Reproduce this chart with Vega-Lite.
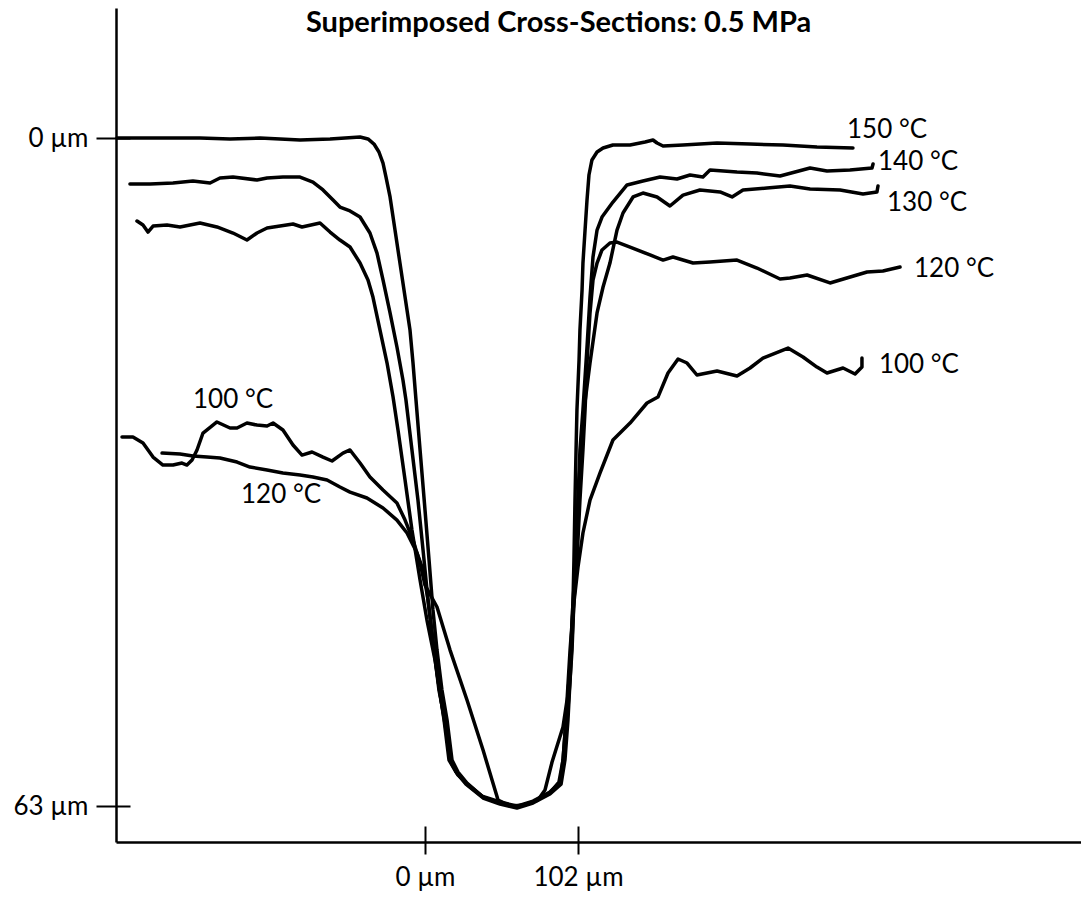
{
  "$schema": "https://vega.github.io/schema/vega-lite/v6.json",
  "width": 965,
  "height": 834,
  "autosize": {"type": "none"},
  "padding": {"left": 116, "top": 8, "right": 0, "bottom": 67},
  "background": "white",
  "title": {"text": "Superimposed Cross-Sections: 0.5 MPa", "font": "Lato", "fontSize": 29, "fontWeight": "bold", "color": "black", "anchor": "middle", "dx": -40, "dy": 53, "offset": 0, "baseline": "alphabetic"},
  "config": {"view": {"stroke": null}},
  "datasets": {
    "curves": [
      {"s":"150","i":1,"x":-205.3,"y":0},{"s":"150","i":2,"x":-183.3,"y":0},{"s":"150","i":3,"x":-150,"y":0},{"s":"150","i":4,"x":-130,"y":0.09},{"s":"150","i":5,"x":-110,"y":0},{"s":"150","i":6,"x":-83.3,"y":0.19},{"s":"150","i":7,"x":-63.3,"y":0.09},{"s":"150","i":8,"x":-53.3,"y":0},{"s":"150","i":9,"x":-43.3,"y":-0.09},{"s":"150","i":10,"x":-38,"y":0.09},{"s":"150","i":11,"x":-34,"y":0.57},{"s":"150","i":12,"x":-30.7,"y":1.32},{"s":"150","i":13,"x":-28,"y":2.36},{"s":"150","i":14,"x":-26,"y":3.68},{"s":"150","i":15,"x":-23.3,"y":5.56},{"s":"150","i":16,"x":-20,"y":8.68},{"s":"150","i":17,"x":-16.7,"y":11.79},{"s":"150","i":18,"x":-13.3,"y":15.0},{"s":"150","i":19,"x":-10,"y":18.11},{"s":"150","i":20,"x":-8,"y":21.22},{"s":"150","i":21,"x":-6,"y":24.71},{"s":"150","i":22,"x":-3.3,"y":29.42},{"s":"150","i":23,"x":0,"y":35.08},{"s":"150","i":24,"x":2.7,"y":39.8},{"s":"150","i":25,"x":5.3,"y":44.51},{"s":"150","i":26,"x":8,"y":48.29},{"s":"150","i":27,"x":11.3,"y":52.06},{"s":"150","i":28,"x":14.7,"y":54.89},{"s":"150","i":29,"x":18,"y":58.66},{"s":"150","i":30,"x":22,"y":59.79},{"s":"150","i":31,"x":28,"y":60.83},{"s":"150","i":32,"x":38.7,"y":62.15},{"s":"150","i":33,"x":50,"y":62.71},{"s":"150","i":34,"x":61.3,"y":63.09},{"s":"150","i":35,"x":72,"y":62.62},{"s":"150","i":36,"x":83.3,"y":61.77},{"s":"150","i":37,"x":90,"y":60.83},{"s":"150","i":38,"x":92,"y":58.66},{"s":"150","i":39,"x":94,"y":54.89},{"s":"150","i":40,"x":96,"y":51.12},{"s":"150","i":41,"x":97.3,"y":48.29},{"s":"150","i":42,"x":98.7,"y":43.57},{"s":"150","i":43,"x":99.3,"y":39.8},{"s":"150","i":44,"x":100,"y":34.14},{"s":"150","i":45,"x":100.7,"y":29.42},{"s":"150","i":46,"x":101.3,"y":25.65},{"s":"150","i":47,"x":102.7,"y":20.94},{"s":"150","i":48,"x":103.3,"y":18.11},{"s":"150","i":49,"x":104.7,"y":14.34},{"s":"150","i":50,"x":105.3,"y":11.79},{"s":"150","i":51,"x":106.7,"y":8.68},{"s":"150","i":52,"x":108,"y":5.85},{"s":"150","i":53,"x":109.3,"y":3.49},{"s":"150","i":54,"x":111.3,"y":2.07},{"s":"150","i":55,"x":114.7,"y":1.32},{"s":"150","i":56,"x":118.7,"y":0.94},{"s":"150","i":57,"x":125.3,"y":0.66},{"s":"150","i":58,"x":136.7,"y":0.66},{"s":"150","i":59,"x":146.7,"y":0.38},{"s":"150","i":60,"x":152,"y":0.19},{"s":"150","i":61,"x":154.7,"y":0.47},{"s":"150","i":62,"x":158.7,"y":0.75},{"s":"150","i":63,"x":172,"y":0.66},{"s":"150","i":64,"x":194.7,"y":0.47},{"s":"150","i":65,"x":216.7,"y":0.57},{"s":"150","i":66,"x":238.7,"y":0.66},{"s":"150","i":67,"x":261.3,"y":0.85},{"s":"150","i":68,"x":285.3,"y":0.94},

      {"s":"140","i":1,"x":-196.7,"y":4.34},{"s":"140","i":2,"x":-183.3,"y":4.34},{"s":"140","i":3,"x":-168,"y":4.24},{"s":"140","i":4,"x":-154.7,"y":4.06},{"s":"140","i":5,"x":-143.3,"y":4.24},{"s":"140","i":6,"x":-136.7,"y":3.77},{"s":"140","i":7,"x":-128,"y":3.68},{"s":"140","i":8,"x":-112,"y":3.96},{"s":"140","i":9,"x":-105.3,"y":3.77},{"s":"140","i":10,"x":-94.7,"y":3.68},{"s":"140","i":11,"x":-83.3,"y":3.68},{"s":"140","i":12,"x":-74.7,"y":4.15},{"s":"140","i":13,"x":-68,"y":4.9},{"s":"140","i":14,"x":-61.3,"y":5.85},{"s":"140","i":15,"x":-56.7,"y":6.51},{"s":"140","i":16,"x":-50,"y":6.88},{"s":"140","i":17,"x":-43.3,"y":7.45},{"s":"140","i":18,"x":-36.7,"y":8.96},{"s":"140","i":19,"x":-32,"y":10.85},{"s":"140","i":20,"x":-28,"y":13.39},{"s":"140","i":21,"x":-23.3,"y":16.5},{"s":"140","i":22,"x":-18.7,"y":19.71},{"s":"140","i":23,"x":-14.7,"y":22.82},{"s":"140","i":24,"x":-12.7,"y":24.71},{"s":"140","i":25,"x":-8.7,"y":29.42},{"s":"140","i":26,"x":-4.7,"y":34.14},{"s":"140","i":27,"x":-1.3,"y":38.86},{"s":"140","i":28,"x":2,"y":43.57},{"s":"140","i":29,"x":6,"y":48.29},{"s":"140","i":30,"x":9.3,"y":52.06},{"s":"140","i":31,"x":13.3,"y":54.89},{"s":"140","i":32,"x":16.7,"y":58.66},{"s":"140","i":33,"x":21.3,"y":59.89},{"s":"140","i":34,"x":27.3,"y":60.93},{"s":"140","i":35,"x":38.7,"y":62.24},{"s":"140","i":36,"x":50,"y":62.81},{"s":"140","i":37,"x":61.3,"y":63.19},{"s":"140","i":38,"x":72,"y":62.71},{"s":"140","i":39,"x":83.3,"y":61.87},{"s":"140","i":40,"x":90.7,"y":60.93},{"s":"140","i":41,"x":93.3,"y":58.66},{"s":"140","i":42,"x":95.3,"y":54.89},{"s":"140","i":43,"x":96.7,"y":51.12},{"s":"140","i":44,"x":98,"y":48.29},{"s":"140","i":45,"x":99.3,"y":43.57},{"s":"140","i":46,"x":100.7,"y":39.8},{"s":"140","i":47,"x":102,"y":34.14},{"s":"140","i":48,"x":103.3,"y":29.42},{"s":"140","i":49,"x":105.3,"y":25.65},{"s":"140","i":50,"x":108,"y":19.71},{"s":"140","i":51,"x":110,"y":15.0},{"s":"140","i":52,"x":112,"y":11.22},{"s":"140","i":53,"x":114.7,"y":8.68},{"s":"140","i":54,"x":118,"y":7.45},{"s":"140","i":55,"x":125.3,"y":6.04},{"s":"140","i":56,"x":134.7,"y":4.43},{"s":"140","i":57,"x":145.3,"y":4.06},{"s":"140","i":58,"x":156.7,"y":3.68},{"s":"140","i":59,"x":168,"y":3.87},{"s":"140","i":60,"x":176.7,"y":3.49},{"s":"140","i":61,"x":185.3,"y":3.68},{"s":"140","i":62,"x":190,"y":3.02},{"s":"140","i":63,"x":208,"y":3.21},{"s":"140","i":64,"x":221.3,"y":3.3},{"s":"140","i":65,"x":236.7,"y":3.58},{"s":"140","i":66,"x":256.7,"y":2.83},{"s":"140","i":67,"x":268,"y":3.11},{"s":"140","i":68,"x":283.3,"y":3.02},{"s":"140","i":69,"x":298,"y":2.83},{"s":"140","i":70,"x":298.7,"y":2.45},

      {"s":"130","i":1,"x":-192,"y":7.83},{"s":"130","i":2,"x":-188,"y":8.21},{"s":"130","i":3,"x":-184.7,"y":8.87},{"s":"130","i":4,"x":-181.3,"y":8.3},{"s":"130","i":5,"x":-172,"y":8.21},{"s":"130","i":6,"x":-163.3,"y":8.39},{"s":"130","i":7,"x":-150,"y":8.02},{"s":"130","i":8,"x":-138.7,"y":8.39},{"s":"130","i":9,"x":-128,"y":8.96},{"s":"130","i":10,"x":-118.7,"y":9.62},{"s":"130","i":11,"x":-112,"y":8.96},{"s":"130","i":12,"x":-105.3,"y":8.49},{"s":"130","i":13,"x":-88,"y":8.11},{"s":"130","i":14,"x":-82,"y":8.39},{"s":"130","i":15,"x":-70,"y":8.02},{"s":"130","i":16,"x":-63.3,"y":8.87},{"s":"130","i":17,"x":-56.7,"y":9.62},{"s":"130","i":18,"x":-50,"y":10.28},{"s":"130","i":19,"x":-43.3,"y":11.79},{"s":"130","i":20,"x":-38,"y":13.39},{"s":"130","i":21,"x":-34.7,"y":15.0},{"s":"130","i":22,"x":-30,"y":18.11},{"s":"130","i":23,"x":-25.3,"y":21.22},{"s":"130","i":24,"x":-21.3,"y":24.43},{"s":"130","i":25,"x":-18,"y":27.54},{"s":"130","i":26,"x":-13.3,"y":32.25},{"s":"130","i":27,"x":-8.7,"y":36.97},{"s":"130","i":28,"x":-3.3,"y":41.69},{"s":"130","i":29,"x":1.3,"y":45.46},{"s":"130","i":30,"x":6.7,"y":49.23},{"s":"130","i":31,"x":10.7,"y":53.0},{"s":"130","i":32,"x":14,"y":55.83},{"s":"130","i":33,"x":17.3,"y":58.85},{"s":"130","i":34,"x":22,"y":60.08},{"s":"130","i":35,"x":28.7,"y":61.02},{"s":"130","i":36,"x":38.7,"y":62.15},{"s":"130","i":37,"x":50,"y":62.71},{"s":"130","i":38,"x":61.3,"y":63.09},{"s":"130","i":39,"x":72,"y":62.62},{"s":"130","i":40,"x":83.3,"y":61.77},{"s":"130","i":41,"x":89.3,"y":60.74},{"s":"130","i":42,"x":92,"y":58.66},{"s":"130","i":43,"x":94,"y":54.89},{"s":"130","i":44,"x":96,"y":51.12},{"s":"130","i":45,"x":97.3,"y":48.29},{"s":"130","i":46,"x":98.7,"y":43.57},{"s":"130","i":47,"x":100.7,"y":39.8},{"s":"130","i":48,"x":102,"y":34.14},{"s":"130","i":49,"x":104,"y":29.42},{"s":"130","i":50,"x":106,"y":25.65},{"s":"130","i":51,"x":110,"y":21.22},{"s":"130","i":52,"x":114.7,"y":16.5},{"s":"130","i":53,"x":118.7,"y":14.05},{"s":"130","i":54,"x":123.3,"y":11.79},{"s":"130","i":55,"x":128,"y":8.68},{"s":"130","i":56,"x":132,"y":7.07},{"s":"130","i":57,"x":138.7,"y":5.56},{"s":"130","i":58,"x":145.3,"y":5.19},{"s":"130","i":59,"x":154.7,"y":5.56},{"s":"130","i":60,"x":163.3,"y":6.41},{"s":"130","i":61,"x":172,"y":5.38},{"s":"130","i":62,"x":183.3,"y":4.9},{"s":"130","i":63,"x":196.7,"y":5.09},{"s":"130","i":64,"x":204.7,"y":5.56},{"s":"130","i":65,"x":212,"y":4.9},{"s":"130","i":66,"x":228,"y":4.72},{"s":"130","i":67,"x":243.3,"y":4.53},{"s":"130","i":68,"x":256.7,"y":4.81},{"s":"130","i":69,"x":276.7,"y":4.9},{"s":"130","i":70,"x":292,"y":5.28},{"s":"130","i":71,"x":301.3,"y":5.09},{"s":"130","i":72,"x":302,"y":4.53},

      {"s":"120","i":1,"x":-175.3,"y":29.71},{"s":"120","i":2,"x":-163.3,"y":29.8},{"s":"120","i":3,"x":-154.7,"y":29.99},{"s":"120","i":4,"x":-145.3,"y":30.09},{"s":"120","i":5,"x":-136.7,"y":30.18},{"s":"120","i":6,"x":-125.3,"y":30.56},{"s":"120","i":7,"x":-116.7,"y":31.03},{"s":"120","i":8,"x":-105.3,"y":31.31},{"s":"120","i":9,"x":-94.7,"y":31.59},{"s":"120","i":10,"x":-83.3,"y":31.78},{"s":"120","i":11,"x":-74.7,"y":31.97},{"s":"120","i":12,"x":-65.3,"y":32.25},{"s":"120","i":13,"x":-56.7,"y":32.91},{"s":"120","i":14,"x":-50,"y":33.39},{"s":"120","i":15,"x":-38.7,"y":33.95},{"s":"120","i":16,"x":-28,"y":34.89},{"s":"120","i":17,"x":-18.7,"y":36.03},{"s":"120","i":18,"x":-12,"y":37.25},{"s":"120","i":19,"x":-5.3,"y":39.14},{"s":"120","i":20,"x":-1.3,"y":40.74},{"s":"120","i":21,"x":2,"y":43.57},{"s":"120","i":22,"x":5.3,"y":47.34},{"s":"120","i":23,"x":8.7,"y":51.12},{"s":"120","i":24,"x":12.7,"y":54.89},{"s":"120","i":25,"x":16,"y":58.66},{"s":"120","i":26,"x":20.7,"y":59.79},{"s":"120","i":27,"x":27.3,"y":60.83},{"s":"120","i":28,"x":38,"y":62.06},{"s":"120","i":29,"x":50,"y":62.62},{"s":"120","i":30,"x":61.3,"y":63.0},{"s":"120","i":31,"x":72,"y":62.53},{"s":"120","i":32,"x":83.3,"y":61.68},{"s":"120","i":33,"x":90,"y":60.74},{"s":"120","i":34,"x":92.7,"y":58.66},{"s":"120","i":35,"x":94.7,"y":54.89},{"s":"120","i":36,"x":96.7,"y":51.12},{"s":"120","i":37,"x":98,"y":47.34},{"s":"120","i":38,"x":99.3,"y":43.57},{"s":"120","i":39,"x":101.3,"y":39.8},{"s":"120","i":40,"x":103.3,"y":34.14},{"s":"120","i":41,"x":105.3,"y":29.42},{"s":"120","i":42,"x":106.7,"y":25.65},{"s":"120","i":43,"x":108,"y":21.22},{"s":"120","i":44,"x":110,"y":16.5},{"s":"120","i":45,"x":112,"y":13.39},{"s":"120","i":46,"x":114.7,"y":11.79},{"s":"120","i":47,"x":118,"y":10.56},{"s":"120","i":48,"x":123.3,"y":9.9},{"s":"120","i":49,"x":128,"y":9.81},{"s":"120","i":50,"x":136.7,"y":10.28},{"s":"120","i":51,"x":150,"y":11.03},{"s":"120","i":52,"x":158.7,"y":11.51},{"s":"120","i":53,"x":165.3,"y":11.22},{"s":"120","i":54,"x":178.7,"y":11.79},{"s":"120","i":55,"x":190,"y":11.69},{"s":"120","i":56,"x":208,"y":11.51},{"s":"120","i":57,"x":221.3,"y":12.26},{"s":"120","i":58,"x":236.7,"y":13.3},{"s":"120","i":59,"x":243.3,"y":13.2},{"s":"120","i":60,"x":254.7,"y":12.92},{"s":"120","i":61,"x":270,"y":13.67},{"s":"120","i":62,"x":276.7,"y":13.39},{"s":"120","i":63,"x":294.7,"y":12.64},{"s":"120","i":64,"x":305.3,"y":12.54},{"s":"120","i":65,"x":316.7,"y":12.17},

      {"s":"100","i":1,"x":-202,"y":28.2},{"s":"100","i":2,"x":-194.7,"y":28.2},{"s":"100","i":3,"x":-188,"y":28.77},{"s":"100","i":4,"x":-181.3,"y":30.09},{"s":"100","i":5,"x":-174.7,"y":30.84},{"s":"100","i":6,"x":-168,"y":30.84},{"s":"100","i":7,"x":-162,"y":30.65},{"s":"100","i":8,"x":-158.7,"y":30.84},{"s":"100","i":9,"x":-155.3,"y":30.37},{"s":"100","i":10,"x":-152,"y":29.42},{"s":"100","i":11,"x":-148,"y":27.82},{"s":"100","i":12,"x":-138.7,"y":26.78},{"s":"100","i":13,"x":-130,"y":27.35},{"s":"100","i":14,"x":-125.3,"y":27.35},{"s":"100","i":15,"x":-118.7,"y":26.88},{"s":"100","i":16,"x":-112,"y":27.07},{"s":"100","i":17,"x":-105.3,"y":27.16},{"s":"100","i":18,"x":-101.3,"y":26.88},{"s":"100","i":19,"x":-94.7,"y":27.54},{"s":"100","i":20,"x":-88,"y":28.95},{"s":"100","i":21,"x":-82,"y":29.9},{"s":"100","i":22,"x":-75.3,"y":29.61},{"s":"100","i":23,"x":-68,"y":30.09},{"s":"100","i":24,"x":-62,"y":30.46},{"s":"100","i":25,"x":-54.7,"y":29.71},{"s":"100","i":26,"x":-50,"y":29.42},{"s":"100","i":27,"x":-43.3,"y":30.65},{"s":"100","i":28,"x":-36.7,"y":31.97},{"s":"100","i":29,"x":-28,"y":33.2},{"s":"100","i":30,"x":-18.7,"y":34.42},{"s":"100","i":31,"x":-13.3,"y":36.03},{"s":"100","i":32,"x":-8,"y":37.91},{"s":"100","i":33,"x":-3.3,"y":40.08},{"s":"100","i":34,"x":0,"y":42.16},{"s":"100","i":35,"x":8,"y":44.23},{"s":"100","i":36,"x":16.7,"y":48.29},{"s":"100","i":37,"x":28,"y":53.0},{"s":"100","i":38,"x":38.7,"y":57.72},{"s":"100","i":39,"x":48.7,"y":62.43},{"s":"100","i":40,"x":56.7,"y":63.0},{"s":"100","i":41,"x":66.7,"y":62.9},{"s":"100","i":42,"x":75.3,"y":62.43},{"s":"100","i":43,"x":80,"y":61.49},{"s":"100","i":44,"x":84.7,"y":58.85},{"s":"100","i":45,"x":92,"y":55.55},{"s":"100","i":46,"x":94.7,"y":53.0},{"s":"100","i":47,"x":96.7,"y":48.29},{"s":"100","i":48,"x":98.7,"y":44.51},{"s":"100","i":49,"x":102,"y":40.46},{"s":"100","i":50,"x":105.3,"y":37.25},{"s":"100","i":51,"x":110,"y":34.14},{"s":"100","i":52,"x":116.7,"y":31.59},{"s":"100","i":53,"x":125.3,"y":28.48},{"s":"100","i":54,"x":136.7,"y":26.88},{"s":"100","i":55,"x":148,"y":24.99},{"s":"100","i":56,"x":155.3,"y":24.43},{"s":"100","i":57,"x":162,"y":22.16},{"s":"100","i":58,"x":168.7,"y":20.84},{"s":"100","i":59,"x":174.7,"y":21.22},{"s":"100","i":60,"x":181.3,"y":22.35},{"s":"100","i":61,"x":194.7,"y":21.97},{"s":"100","i":62,"x":208,"y":22.45},{"s":"100","i":63,"x":216.7,"y":21.69},{"s":"100","i":64,"x":225.3,"y":20.75},{"s":"100","i":65,"x":242,"y":19.81},{"s":"100","i":66,"x":252,"y":20.65},{"s":"100","i":67,"x":261.3,"y":21.6},{"s":"100","i":68,"x":268,"y":22.16},{"s":"100","i":69,"x":278.7,"y":21.69},{"s":"100","i":70,"x":286.7,"y":22.26},{"s":"100","i":71,"x":291.3,"y":21.6},{"s":"100","i":72,"x":291.3,"y":20.75}
    ],
    "labels": [
      {"t":"150 °C","x":308,"y":-0.75},
      {"t":"140 °C","x":328.7,"y":2.26},
      {"t":"130 °C","x":334.7,"y":6.13},
      {"t":"120 °C","x":352.7,"y":12.35},
      {"t":"100 °C","x":329.3,"y":21.41},
      {"t":"100 °C","x":-128,"y":24.71},
      {"t":"120 °C","x":-96,"y":33.67}
    ]
  },
  "layer": [
    {
      "data": {"name": "curves"},
      "mark": {"type": "line", "color": "black", "strokeWidth": 3.5, "strokeJoin": "round", "strokeCap": "round"},
      "encoding": {
        "x": {"field": "x", "type": "quantitative",
              "scale": {"domain": [-206, 437.33], "nice": false, "zero": false},
              "axis": {"values": [0, 102], "labelExpr": "datum.value + ' µm'", "title": null, "grid": false,
                       "domainColor": "black", "domainWidth": 2.5, "tickColor": "black", "tickWidth": 2, "tickSize": 12,
                       "labelFont": "Lato", "labelFontSize": 26, "labelColor": "black", "labelPadding": 10,
                       "encoding": {"ticks": {"y": {"value": -16}, "y2": {"value": 12}}}}},
        "y": {"field": "y", "type": "quantitative",
              "scale": {"domain": [-12.26, 66.39], "nice": false, "zero": false, "reverse": true},
              "axis": {"values": [0, 63], "labelExpr": "datum.value + ' µm'", "title": null, "grid": false,
                       "domainColor": "black", "domainWidth": 2.5, "tickColor": "black", "tickWidth": 2, "tickSize": 20,
                       "labelFont": "Lato", "labelFontSize": 26, "labelColor": "black", "labelPadding": 8,
                       "encoding": {"ticks": {"x": {"value": 14}, "x2": {"value": -20}}}}},
        "detail": {"field": "s", "type": "nominal"},
        "order": {"field": "i", "type": "quantitative"}
      }
    },
    {
      "data": {"name": "labels"},
      "mark": {"type": "text", "font": "Lato", "fontSize": 26, "color": "black", "align": "center", "baseline": "middle"},
      "encoding": {
        "x": {"field": "x", "type": "quantitative"},
        "y": {"field": "y", "type": "quantitative"},
        "text": {"field": "t", "type": "nominal"}
      }
    }
  ]
}
